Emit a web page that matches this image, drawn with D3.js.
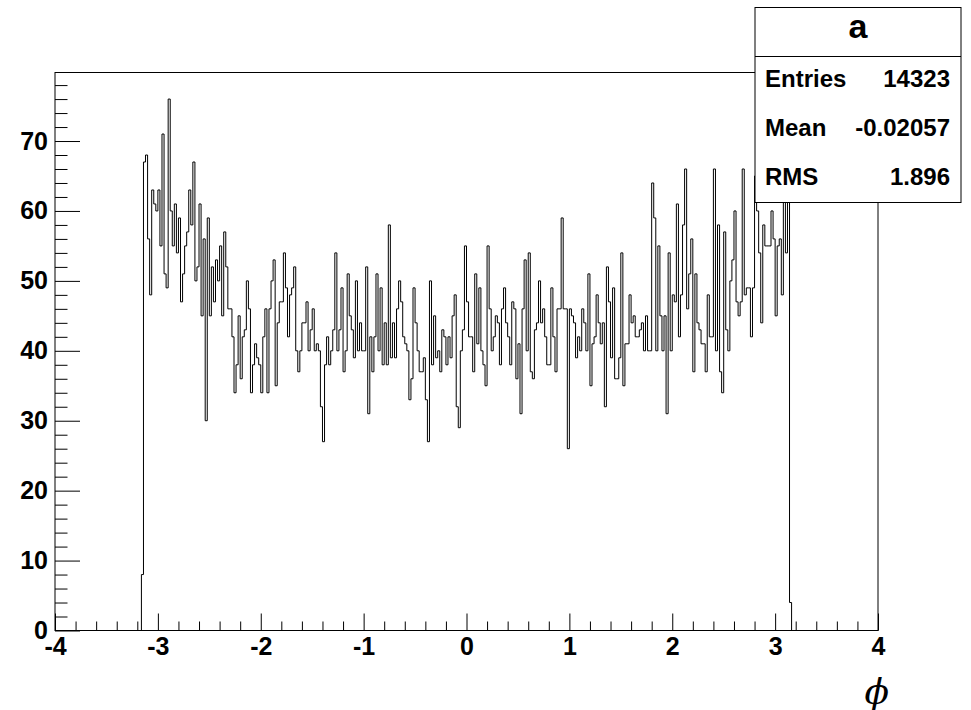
<!DOCTYPE html>
<html>
<head>
<meta charset="utf-8">
<script src="https://cdn.jsdelivr.net/npm/d3@7/dist/d3.min.js"></script>
<style>
  body { margin: 0; background: #fff; }
  svg { display: block; }
  text { font-family: "Liberation Sans", Arial, Helvetica, sans-serif; font-weight: bold; fill: #000; }
</style>
</head>
<body>
<div id="chart"></div>
<script>
// histogram "a": 400 bins on [-4, 4], only bins 42..357 are filled
const histName = 'a';
const xRange = [-4, 4];
const nBins = 400;
const firstFilledBin = 42;   // bin [-3.16, -3.14]
const counts = [
    8,
    67, 68, 56, 48, 63, 61, 60, 63, 55, 71, 51, 49, 76, 60, 55, 61, 54, 59, 47, 51,
    55, 57, 63, 58, 67, 50, 52, 61, 45, 56, 30, 59, 45, 52, 47, 53, 50, 55, 45, 57,
    52, 46,
    46, 42, 34, 38, 45, 36, 42, 43, 50, 46, 34, 38, 41, 39, 38, 34, 42, 46, 34, 46,
    50, 53, 35, 44, 47, 47, 54, 49, 42, 48, 49, 52, 40, 37, 40, 44, 44, 47, 40, 43,
    46, 40, 41, 40, 32, 27,
    38, 42, 38, 40, 43, 54, 40, 43, 49, 37, 40, 51, 45, 43, 39, 50, 40, 44, 40, 40,
    52, 31, 42, 37, 42, 51, 40, 49, 38, 44, 38, 58, 39, 44, 39, 46, 50, 47, 42, 41,
    40, 33, 36, 49, 44, 40, 37,
    37, 39, 33, 27, 50, 38, 45, 39, 40, 37, 43, 42, 38, 42, 39, 45, 48, 32, 29, 40,
    43, 55, 47, 42, 42, 37, 51, 41, 49, 40, 38, 35, 55, 46, 40, 42, 45, 44, 38, 46,
    49, 44, 42,
    38, 47, 46, 36, 41, 31, 46, 53, 40, 54, 37, 36, 43, 44, 50, 44, 46, 42, 38, 38,
    49, 42, 37, 46, 46, 59, 46, 46, 26, 46, 45, 44, 39, 42, 40, 46, 44, 40, 51, 35,
    41, 42, 48, 44, 41, 44,
    32, 52, 47, 39, 49, 36, 36, 39, 54, 35, 41, 41, 48, 44, 45, 42, 42, 43, 44, 40,
    45, 40, 40, 64, 59, 40, 55, 45, 40, 45, 31, 54, 40, 48, 47, 61, 42, 48, 58, 66,
    46, 51, 56, 37, 51, 44,
    43, 41, 41, 37, 48, 42, 42, 66, 40, 58, 37, 34, 57, 43, 40, 50, 53, 60, 47, 45,
    47, 66, 48, 49, 49, 42, 49, 65, 60, 54, 44, 58, 55, 55, 55, 60, 56, 45, 55, 56,
    48, 63, 54, 66,
    4
];
const yMax = 79.8;
const xTickValues = [-4, -3, -2, -1, 0, 1, 2, 3, 4];
const yTickValues = [0, 10, 20, 30, 40, 50, 60, 70];
const statLabels = ['Entries', 'Mean', 'RMS'];
const statValues = ['14323', '-0.02057', '1.896'];
const xTitle = '\u03d5';

const width = 971, height = 710;
const frame = { left: 55, right: 878, top: 72.5, bottom: 630.5 };

const svg = d3.select('#chart').append('svg')
    .attr('width', width)
    .attr('height', height);

const x = d3.scaleLinear().domain(xRange).range([frame.left, frame.right]);
const y = d3.scaleLinear().domain([0, yMax]).range([frame.bottom, frame.top]);

// frame
svg.append('rect')
    .attr('x', frame.left)
    .attr('y', frame.top)
    .attr('width', frame.right - frame.left)
    .attr('height', frame.bottom - frame.top)
    .attr('fill', 'none')
    .attr('stroke', '#000')
    .attr('stroke-width', 1);

// histogram outline (zero bins run along the axis)
const binWidth = (xRange[1] - xRange[0]) / nBins;
const pts = [[xRange[0], 0]];
for (let i = 0; i < nBins; i++) {
    const j = i - firstFilledBin;
    const c = (j >= 0 && j < counts.length) ? counts[j] : 0;
    const lo = xRange[0] + i * binWidth;
    pts.push([lo, c], [lo + binWidth, c]);
}
pts.push([xRange[1], 0]);

svg.append('path')
    .datum(pts)
    .attr('fill', 'none')
    .attr('stroke', '#000')
    .attr('stroke-width', 1)
    .attr('d', d3.line().x(d => x(d[0])).y(d => y(d[1])));

// x axis: major + minor ticks, pointing into the frame
const xMinor = d3.range(-40, 41, 2).map(v => v / 10).filter(v => !xTickValues.includes(v));
const xMajor = svg.append('g')
    .attr('transform', `translate(0,${frame.bottom})`)
    .call(d3.axisBottom(x).tickValues(xTickValues).tickSize(-17).tickPadding(7)
        .tickFormat(d => d < 0 ? '-' + Math.abs(d) : String(d)));
xMajor.selectAll('text').style('font-size', '25px');
const xMinorG = svg.append('g')
    .attr('transform', `translate(0,${frame.bottom})`)
    .call(d3.axisBottom(x).tickValues(xMinor).tickSize(-9).tickFormat(''));
xMinorG.selectAll('text').remove();
[xMajor, xMinorG].forEach(g => {
    g.selectAll('.domain').remove();
    g.selectAll('line').attr('stroke', '#000');
});

// y axis
const yMinor = d3.range(0, 80, 2).filter(v => !yTickValues.includes(v));
const yMajor = svg.append('g')
    .attr('transform', `translate(${frame.left},0)`)
    .call(d3.axisLeft(y).tickValues(yTickValues).tickSize(-25).tickPadding(7));
yMajor.selectAll('text').style('font-size', '25px');
const yMinorG = svg.append('g')
    .attr('transform', `translate(${frame.left},0)`)
    .call(d3.axisLeft(y).tickValues(yMinor).tickSize(-12.5).tickFormat(''));
yMinorG.selectAll('text').remove();
[yMajor, yMinorG].forEach(g => {
    g.selectAll('.domain').remove();
    g.selectAll('line').attr('stroke', '#000');
});

// axis title
svg.append('text')
    .attr('x', 889)
    .attr('y', 704)
    .attr('text-anchor', 'end')
    .style('font-family', '"DejaVu Serif", serif')
    .style('font-weight', 'normal')
    .style('font-style', 'italic')
    .style('font-size', '36px')
    .text(xTitle);

// stats box
const box = { x0: 755, x1: 961, y0: 7.5, ySep: 56.5, y1: 202.5 };
const stats = svg.append('g');
stats.append('rect')
    .attr('x', box.x0)
    .attr('y', box.y0)
    .attr('width', box.x1 - box.x0)
    .attr('height', box.y1 - box.y0)
    .attr('fill', '#fff')
    .attr('stroke', '#000');
stats.append('line')
    .attr('x1', box.x0).attr('x2', box.x1)
    .attr('y1', box.ySep).attr('y2', box.ySep)
    .attr('stroke', '#000');
stats.append('text')
    .attr('x', (box.x0 + box.x1) / 2)
    .attr('y', 38)
    .attr('text-anchor', 'middle')
    .style('font-size', '34px')
    .text(histName);

const rowY = d3.scalePoint().domain(statLabels).range([87, 185]);
stats.selectAll('text.lab')
    .data(statLabels)
    .join('text')
    .attr('class', 'lab')
    .attr('x', 765)
    .attr('y', d => rowY(d))
    .style('font-size', '24px')
    .text(d => d);
stats.selectAll('text.val')
    .data(statValues)
    .join('text')
    .attr('class', 'val')
    .attr('x', 950)
    .attr('y', (d, i) => rowY(statLabels[i]))
    .attr('text-anchor', 'end')
    .style('font-size', '24px')
    .text(d => d);
</script>
</body>
</html>
